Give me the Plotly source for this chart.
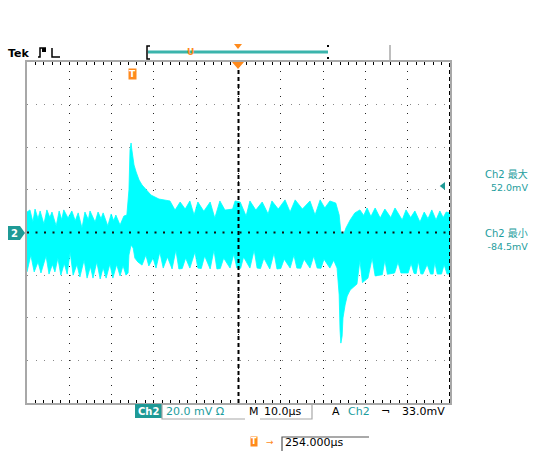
import plotly.graph_objects as go

# ---------------- data (time in us across screen, volts in mV) ----------------
upper_t = [0, 0.7, 1.4, 1.9, 2.6, 3.1, 4.0, 4.7, 5.4, 5.9, 6.9, 7.6, 8.2, 8.7, 9.7, 10.6,
           11.4, 12.1, 13.0, 13.7, 14.5, 14.9, 16.1, 16.8, 17.5, 18.0, 19.1, 19.9, 20.5, 21.0,
           22.0, 22.9, 23.6,
           24.1, 24.35, 24.6, 24.8, 25.3, 25.8, 26.5, 27.2, 28.2, 29.3, 31.2,
           33.8, 35.0, 36.2, 37.4, 38.5, 39.5, 40.4, 41.8, 43.3, 44.4, 45.6, 46.8, 48.6, 49.2,
           50.4, 51.8, 52.7, 54.1, 55.6, 57.0, 57.9, 59.4, 61.0, 62.2, 63.4, 65.1, 66.9, 68.1,
           69.3, 70.4, 71.6, 73.0,
           73.8, 74.2, 74.9, 75.4, 76.4,
           77.5, 78.7, 79.6, 80.4, 81.3, 82.3, 83.5, 84.6, 86.0, 87.0, 88.7, 89.6, 90.7, 91.7,
           92.9, 93.9, 94.8, 95.7, 96.7, 97.6, 98.4, 99.1, 100]
upper_v = [9.6, 10.6, 4.9, 11.0, 6.5, 10.1, 4.0, 10.6, 7.0, 9.6, 3.1, 10.1, 6.0, 10.6, 6.8, 10.1,
           5.5, 9.2, 2.1, 9.6, 6.0, 10.1, 4.9, 9.6, 6.5, 9.2, 3.1, 8.7, 5.5, 8.2,
           3.5, 7.7, 8.2,
           20.0, 38.7, 42.0, 38.7, 31.7, 28.4, 24.6, 22.3, 20.0, 17.6, 15.7,
           14.8, 10.5, 14.3, 11.0, 14.8, 8.2, 14.3, 10.0, 14.3, 6.8, 14.8, 10.5, 11.0, 14.8,
           14.3, 7.7, 14.8, 10.5, 14.3, 8.7, 14.8, 11.0, 15.3, 9.6, 15.3, 11.0, 14.8, 8.2,
           15.3, 11.5, 14.8, 13.8,
           8.2, 0.2, -0.7, 2.1, 5.9,
           9.2, 10.6, 8.0, 11.5, 7.5, 11.5, 6.8, 11.0, 7.0, 11.5, 5.9, 10.6, 7.0, 10.1,
           4.9, 9.6, 6.5, 10.6, 5.9, 10.1, 7.0, 9.6, 9.2]

lower_t = [0, 0.9, 1.7, 2.6, 3.3, 4.5, 5.2, 6.0, 6.6, 7.3, 8.0, 8.8, 9.5, 10.2, 10.9, 11.8,
           12.5, 13.5, 14.2, 15.0, 15.6, 16.5, 17.3, 18.0, 18.7, 19.6, 20.3, 21.2, 22.0, 22.7,
           23.4, 23.9,
           24.1, 24.6, 25.1, 25.5, 26.2, 27.2,
           28.1, 28.8, 29.8, 30.5, 31.4, 32.2, 33.2, 34.3, 35.2, 35.9, 36.7, 37.5, 38.5, 39.7,
           40.4, 41.2, 42.0, 43.3, 44.2, 44.9, 45.7, 46.5, 48.0, 48.9, 49.6, 50.5, 51.2, 52.7,
           53.7, 54.4, 55.2, 56.0, 57.4, 58.4, 59.1, 60.0, 60.8, 62.2, 63.1, 63.8, 64.7, 65.5,
           66.9, 67.8, 68.6, 69.5, 70.2, 71.6, 72.5, 73.3,
           73.8, 74.0, 74.2, 74.5, 74.7, 75.2, 75.7, 76.4, 77.1, 78.0,
           78.7, 79.3, 80.6, 81.6, 82.3, 84.0, 84.6, 85.2, 86.9, 87.7, 88.4, 90.1, 90.8, 91.5,
           92.0, 92.5, 93.1, 93.6, 94.6, 95.4, 96.0, 96.4, 97.0, 98.0, 98.6, 99.3, 100]
lower_v = [-18.5, -10.6, -18.5, -13.8, -19.0, -11.0, -19.5, -15.0, -18.5, -12.0, -20.0, -14.5,
           -19.5, -9.2, -20.0, -15.0,
           -20.9, -12.9, -21.4, -16.0, -21.4, -13.8, -21.8, -16.5, -21.4, -14.8, -21.4, -15.0,
           -20.4, -15.5,
           -20.0, -19.0,
           -10.6, -5.9, -7.3, -12.0, -13.8, -15.3,
           -10.6, -15.7, -12.0, -16.7, -9.2, -16.7, -11.5, -17.1, -8.2, -17.1, -16.9, -12.0,
           -16.7, -9.2,
           -16.7, -16.9, -11.0, -17.1, -8.2, -17.1, -16.9, -12.0, -16.7, -10.1, -16.7, -16.8,
           -11.5, -16.7,
           -8.2, -16.7, -16.9, -12.0, -17.1, -9.6, -17.1, -16.9, -12.5, -16.7, -10.6, -16.7,
           -16.8, -12.5,
           -16.7, -11.0, -16.7, -16.8, -12.5, -16.7, -13.0, -16.7,
           -29.3, -45.8, -51.9, -48.6, -40.1, -34.0, -29.8, -27.0, -25.6, -24.2,
           -13.0, -23.5, -21.4, -12.0, -20.4, -19.8, -13.0, -19.6, -19.0, -14.0, -19.0, -19.0,
           -14.5, -19.2,
           -19.3, -13.5, -19.4, -19.5, -15.0, -19.5, -19.5, -14.0, -19.5, -19.5, -15.0, -19.5,
           -19.5]

trigger_level_mv = 21.8
ch_label = "Ch2"
volts_div = "20.0 mV Ω"
time_div = "10.0μs"
trig_text = "33.0mV"
delay_text = "254.000μs"
meas_names = ["Ch2 最大", "Ch2 最小"]
meas_values = ["52.0mV", "-84.5mV"]

# ---------------- layout helpers (reference pixel -> paper) ----------------
L, R, T, B = 27, 450, 62, 403
FIG_W, FIG_H = 535, 453
def PX(x):
    return (x - L) / (R - L)
def PY(y):
    return (B - y) / (B - T)

TEAL = "#1f9a96"
TEALTXT = "#1d9d9d"
ORANGE = "#ff8a1c"
GREY = "#a8a8a8"
FONT = "DejaVu Sans"

fig = go.Figure()
fig.add_trace(go.Scatter(
    x=upper_t + lower_t[::-1], y=upper_v + lower_v[::-1],
    fill="toself", fillcolor="#00ffff", mode="lines",
    line=dict(color="#00ffff", width=0.8), hoverinfo="skip", showlegend=False))

fig.add_trace(go.Scatter(
    x=[98.4], y=[trigger_level_mv], mode="markers", cliponaxis=False,
    marker=dict(symbol="triangle-left", size=7, color=TEAL), showlegend=False, hoverinfo="skip"))

shapes = []
shapes.append(dict(type="line", xref="x", yref="y", x0=50, x1=50, y0=-80, y1=80,
                   line=dict(color="black", width=2, dash="4px,3px")))
shapes.append(dict(type="line", xref="x", yref="y", x0=100, x1=100, y0=-80, y1=80,
                   line=dict(color="black", width=2, dash="4px,3px")))
shapes.append(dict(type="line", xref="x", yref="y", x0=0, x1=100, y0=0, y1=0,
                   line=dict(color="#111", width=2, dash="2px,6.5px")))
# top bar
shapes.append(dict(type="line", xref="paper", yref="paper", x0=PX(148), x1=PX(328), y0=PY(52), y1=PY(52),
                   line=dict(color="#3bb4ac", width=3)))
shapes.append(dict(type="path", xref="paper", yref="paper",
                   path=f"M {PX(150)},{PY(46)} L {PX(147)},{PY(46)} L {PX(147)},{PY(59)} L {PX(150)},{PY(59)}",
                   line=dict(color="black", width=1.5)))
shapes.append(dict(type="line", xref="paper", yref="paper", x0=PX(390), x1=PX(390), y0=PY(45), y1=PY(61),
                   line=dict(color=GREY, width=1.5)))
shapes.append(dict(type="rect", xref="paper", yref="paper", x0=PX(327), x1=PX(329), y0=PY(47), y1=PY(45),
                   fillcolor="black", line=dict(width=0)))
shapes.append(dict(type="rect", xref="paper", yref="paper", x0=PX(327), x1=PX(329), y0=PY(59), y1=PY(57),
                   fillcolor="black", line=dict(width=0)))
shapes.append(dict(type="path", xref="paper", yref="paper",
                   path=f"M {PX(234)},{PY(44)} L {PX(242)},{PY(44)} L {PX(238)},{PY(49)} Z",
                   fillcolor=ORANGE, line=dict(width=0)))
shapes.append(dict(type="path", xref="paper", yref="paper",
                   path=f"M {PX(232)},{PY(62)} L {PX(244)},{PY(62)} L {PX(238)},{PY(69)} Z",
                   fillcolor=ORANGE, line=dict(width=0)))
# Tek trigger-status symbol
shapes.append(dict(type="path", xref="paper", yref="paper",
                   path=f"M {PX(38)},{PY(57)} L {PX(40)},{PY(57)} L {PX(40)},{PY(48)} L {PX(46)},{PY(48)} "
                        f"M {PX(52)},{PY(48)} L {PX(52)},{PY(57)} L {PX(60)},{PY(57)}",
                   line=dict(color="black", width=1.5)))
shapes.append(dict(type="rect", xref="paper", yref="paper", x0=PX(42), x1=PX(46), y0=PY(52), y1=PY(48),
                   fillcolor="black", line=dict(width=0)))
# bottom boxes
shapes.append(dict(type="rect", xref="paper", yref="paper", x0=PX(135), x1=PX(162), y0=PY(404), y1=PY(418),
                   fillcolor=TEAL, line=dict(width=0)))
shapes.append(dict(type="path", xref="paper", yref="paper",
                   path=f"M {PX(162)},{PY(404)} L {PX(162)},{PY(419)} L {PX(245)},{PY(419)}",
                   line=dict(color=GREY, width=1.2)))
shapes.append(dict(type="path", xref="paper", yref="paper",
                   path=f"M {PX(260)},{PY(419)} L {PX(312)},{PY(419)} L {PX(312)},{PY(404)}",
                   line=dict(color=GREY, width=1.2)))
shapes.append(dict(type="path", xref="paper", yref="paper",
                   path=f"M {PX(282)},{PY(451)} L {PX(282)},{PY(437)} L {PX(369)},{PY(437)}",
                   line=dict(color="#555", width=1.2)))
# left channel marker
shapes.append(dict(type="path", xref="paper", yref="paper",
                   path=f"M {PX(8)},{PY(226)} L {PX(20)},{PY(226)} L {PX(25)},{PY(233)} L {PX(20)},{PY(240)} L {PX(8)},{PY(240)} Z",
                   fillcolor=TEAL, line=dict(width=0)))

ann = []
def txt(x, y, s, color="black", size=10, xanchor="left", bold=False, family=FONT, bg=None, align="left"):
    ann.append(dict(x=PX(x), y=PY(y), xref="paper", yref="paper", text=(f"<b>{s}</b>" if bold else s),
                    showarrow=False, xanchor=xanchor, yanchor="middle", align=align,
                    font=dict(color=color, size=size, family=family),
                    bgcolor=bg, borderpad=0))

txt(7, 53, "Tek", size=11, bold=True)
txt(190, 52, "U", color=ORANGE, size=9, xanchor="center", bold=True)
txt(132, 74, "T", color="white", size=9, xanchor="center", bold=True, bg=ORANGE)
txt(14, 233, "2", color="white", size=10, xanchor="center", bold=True)
txt(148, 411, ch_label, color="white", size=10, xanchor="center", bold=True)
txt(165, 411, volts_div, color=TEALTXT, size=11)
txt(248, 411, "M", size=11)
txt(263, 411, time_div, size=11)
txt(331, 411, "A", size=11)
txt(347, 411, ch_label, color=TEALTXT, size=11)
txt(380, 411, "¬", size=11)
txt(401, 411, trig_text, size=11)
txt(254, 442, "T", color="white", size=8, xanchor="center", bold=True, bg=ORANGE)
txt(265, 442, "→", color=ORANGE, size=9)
txt(284, 443, delay_text, size=11)
for name, value, yc in zip(meas_names, meas_values, [180, 240]):
    txt(529, yc, f"{name}<br><span style='font-size:9.5px'>{value}</span>",
        color=TEALTXT, size=10, xanchor="right", align="right",
        family="DejaVu Sans, Noto Sans CJK SC")

fig.update_layout(
    width=FIG_W, height=FIG_H,
    margin=dict(l=L, r=FIG_W - R, t=T, b=FIG_H - B, pad=0),
    paper_bgcolor="white", plot_bgcolor="white",
    showlegend=False, shapes=shapes, annotations=ann, hovermode=False,
    xaxis=dict(range=[0, 100], dtick=10, tick0=0, showgrid=True, gridcolor="#222", gridwidth=1,
               griddash="1px,7.5px", zeroline=False, showline=True, linecolor=GREY, linewidth=2,
               mirror="ticks", ticks="inside", ticklen=3, tickcolor="black", tickwidth=1,
               showticklabels=False, fixedrange=True,
               minor=dict(dtick=2, ticks="inside", ticklen=3, tickcolor="black", showgrid=False)),
    yaxis=dict(range=[-80, 80], dtick=20, tick0=0, showgrid=True, gridcolor="#888", gridwidth=1,
               griddash="1px,7.5px", zeroline=False, showline=True, linecolor=GREY, linewidth=2,
               mirror=True, ticks="", showticklabels=False, fixedrange=True),
)

fig.write_html("out.html", config={"displayModeBar": False, "staticPlot": True},
               post_script="document.body.style.margin='0';document.body.style.overflow='hidden';")
